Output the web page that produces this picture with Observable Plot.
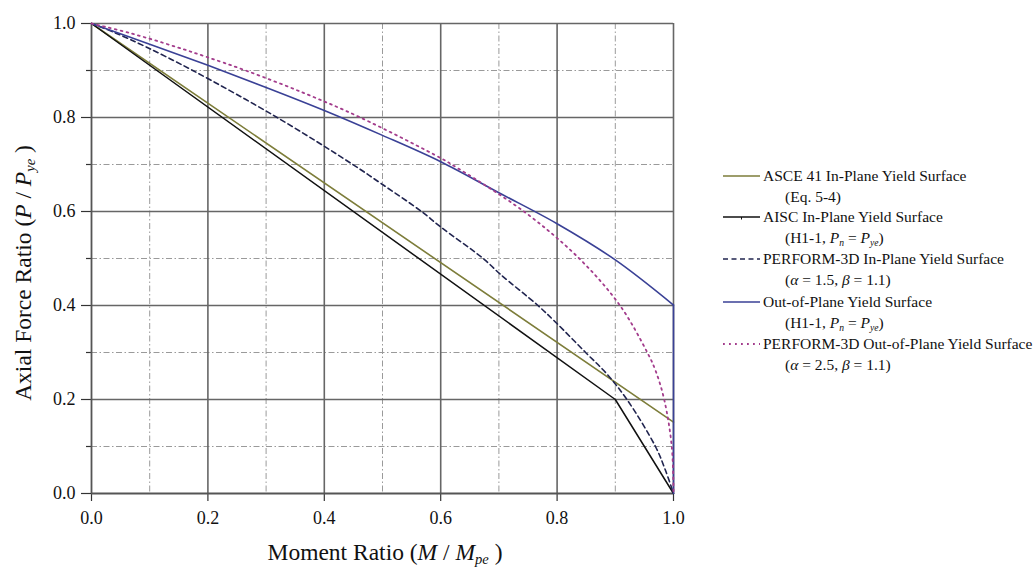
<!DOCTYPE html>
<html>
<head>
<meta charset="utf-8">
<script src="https://cdn.jsdelivr.net/npm/d3@7"></script>
<script src="https://cdn.jsdelivr.net/npm/@observablehq/plot@0.6"></script>
<style>
  html, body { margin: 0; padding: 0; background: #fff; }
  #chart { position: relative; width: 1036px; height: 569px; }
</style>
</head>
<body>
<div id="chart"></div>
<script>
// ---- data ----
const xMajorTicks = [0, 0.2, 0.4, 0.6, 0.8, 1.0];
const xMinorTicks = [0.1, 0.3, 0.5, 0.7, 0.9];
const yMajorTicks = [0, 0.2, 0.4, 0.6, 0.8, 1.0];
const yMinorTicks = [0.1, 0.3, 0.5, 0.7, 0.9];

// ASCE 41 In-Plane Yield Surface (Eq. 5-4)
const asceM = [0, 1.0];
const asceP = [1.0, 0.152];

// AISC In-Plane Yield Surface (H1-1)
const aiscM = [0, 0.9, 1.0];
const aiscP = [1.0, 0.2, 0];

// PERFORM-3D In-Plane Yield Surface (alpha 1.5, beta 1.1)
const p3dInM = [0, 0.041, 0.094, 0.174, 0.319, 0.449, 0.497, 0.567, 0.600, 0.673, 0.702, 0.767, 0.797, 0.849, 0.885, 0.920, 0.969, 0.986, 1.0];
const p3dInP = [1.0, 0.98, 0.95, 0.90, 0.80, 0.70, 0.66, 0.60, 0.567, 0.50, 0.467, 0.40, 0.365, 0.30, 0.255, 0.20, 0.10, 0.05, 0];

// Out-of-Plane Yield Surface (H1-1)
const oopM = [0, 0.1, 0.2, 0.3, 0.4, 0.5, 0.6, 0.7, 0.8, 0.9, 1.0];
const oopP = [1.0, 0.956, 0.911, 0.864, 0.815, 0.762, 0.706, 0.640, 0.574, 0.497, 0.401];
const oopDropM = [1.0, 1.0];
const oopDropP = [0.401, 0];

// PERFORM-3D Out-of-Plane Yield Surface (alpha 2.5, beta 1.1)
const p3dOutM = [0, 0.065, 0.146, 0.195, 0.265, 0.369, 0.462, 0.601, 0.619, 0.743, 0.838, 0.908, 0.955, 0.969, 0.984, 0.997, 1.0];
const p3dOutP = [1.0, 0.98, 0.95, 0.93, 0.90, 0.85, 0.80, 0.713, 0.70, 0.60, 0.50, 0.40, 0.30, 0.262, 0.20, 0.10, 0];

const legendLabels = [
  "ASCE 41 In-Plane Yield Surface",
  "AISC In-Plane Yield Surface",
  "PERFORM-3D In-Plane Yield Surface",
  "Out-of-Plane Yield Surface",
  "PERFORM-3D Out-of-Plane Yield Surface"
];

// ---- styles ----
const C_OLIVE = "#7d7d3a";
const C_BLACK = "#111111";
const C_NAVY = "#20244f";
const C_BLUE = "#3a4196";
const C_PINK = "#a33c8c";
const FONT = "'Liberation Serif', 'Times New Roman', serif";

const fmt = d => d.toFixed(1);

const plot = Plot.plot({
  width: 1036,
  height: 569,
  marginLeft: 91,
  marginRight: 363,
  marginTop: 23,
  marginBottom: 76,
  x: { domain: [0, 1] },
  y: { domain: [0, 1] },
  style: { fontFamily: FONT, fontSize: "18px", color: "#222", background: "#fff" },
  marks: [
    Plot.ruleX(xMinorTicks, { stroke: "#9a9a9a", strokeWidth: 1, strokeDasharray: "6,2.5,1.5,2.5" }),
    Plot.ruleY(yMinorTicks, { stroke: "#9a9a9a", strokeWidth: 1, strokeDasharray: "6,2.5,1.5,2.5" }),
    Plot.ruleX(xMajorTicks.slice(1), { stroke: "#666", strokeWidth: 1.6 }),
    Plot.ruleY(yMajorTicks.slice(1), { stroke: "#666", strokeWidth: 1.6 }),
    Plot.axisX({ ticks: xMajorTicks, tickFormat: fmt, tickSize: 8, tickPadding: 10, label: null, stroke: "#333", strokeWidth: 1.2, fill: "#111" }),
    Plot.axisY({ ticks: yMajorTicks, tickFormat: fmt, tickSize: 10, tickPadding: 6, label: null, stroke: "#333", strokeWidth: 1.2, fill: "#111" }),
    Plot.axisY({ ticks: yMinorTicks, tickFormat: () => "", tickSize: 5, label: null, stroke: "#333", strokeWidth: 1.2 }),
    Plot.ruleX([0], { stroke: "#555", strokeWidth: 1.8 }),
    Plot.ruleY([0], { stroke: "#555", strokeWidth: 1.8 }),
    Plot.line(asceM, { x: asceM, y: asceP, stroke: C_OLIVE, strokeWidth: 1.6 }),
    Plot.line(aiscM, { x: aiscM, y: aiscP, stroke: C_BLACK, strokeWidth: 1.5 }),
    Plot.line(p3dInM, { x: p3dInM, y: p3dInP, stroke: C_NAVY, strokeWidth: 1.6, strokeDasharray: "5,3.5", curve: "catmull-rom" }),
    Plot.line(oopM, { x: oopM, y: oopP, stroke: C_BLUE, strokeWidth: 1.6, curve: "catmull-rom" }),
    Plot.line(oopDropM, { x: oopDropM, y: oopDropP, stroke: C_BLUE, strokeWidth: 1.6 }),
    Plot.line(p3dOutM, { x: p3dOutM, y: p3dOutP, stroke: C_PINK, strokeWidth: 1.8, strokeDasharray: "1.8,4.2", curve: "catmull-rom" })
  ]
});

document.getElementById("chart").appendChild(plot);

const svg = d3.select(plot);

// axis titles with italics and subscripts
function richText(sel, parts) {
  parts.forEach(p => {
    const t = sel.append("tspan").text(p.t);
    if (p.i) t.attr("font-style", "italic");
    if (p.sub) t.attr("baseline-shift", "-25%").attr("font-size", "0.62em");
  });
}

const xt = svg.append("text")
  .attr("x", 385).attr("y", 560)
  .attr("text-anchor", "middle")
  .attr("font-family", FONT).attr("font-size", 23.5).attr("fill", "#111");
richText(xt, [
  { t: "Moment Ratio (" }, { t: "M", i: true }, { t: " / " }, { t: "M", i: true },
  { t: "pe", i: true, sub: true }, { t: " )" }
]);

const yt = svg.append("text")
  .attr("transform", "translate(31,273) rotate(-90)")
  .attr("text-anchor", "middle")
  .attr("font-family", FONT).attr("font-size", 23.5).attr("fill", "#111");
richText(yt, [
  { t: "Axial Force Ratio (" }, { t: "P", i: true }, { t: " / " }, { t: "P", i: true },
  { t: "ye", i: true, sub: true }, { t: " )" }
]);

// legend
const lg = svg.append("g")
  .attr("font-family", FONT).attr("font-size", 15.5).attr("fill", "#111")
  .attr("text-anchor", "start");
const legendRows = [
  { y: 176, stroke: C_OLIVE, dash: null, w: 1.6, label: [{ t: legendLabels[0] }], sub: [{ t: "(Eq. 5-4)" }] },
  { y: 217, stroke: C_BLACK, dash: null, w: 1.5, tick: true, label: [{ t: legendLabels[1] }],
    sub: [{ t: "(H1-1, " }, { t: "P", i: true }, { t: "n", i: true, sub: true }, { t: " = " }, { t: "P", i: true }, { t: "ye", i: true, sub: true }, { t: ")" }] },
  { y: 259, stroke: C_NAVY, dash: "5,3.5", w: 1.6, label: [{ t: legendLabels[2] }],
    sub: [{ t: "(" }, { t: "α", i: true }, { t: " = 1.5, " }, { t: "β", i: true }, { t: " = 1.1)" }] },
  { y: 302, stroke: C_BLUE, dash: null, w: 1.6, label: [{ t: legendLabels[3] }],
    sub: [{ t: "(H1-1, " }, { t: "P", i: true }, { t: "n", i: true, sub: true }, { t: " = " }, { t: "P", i: true }, { t: "ye", i: true, sub: true }, { t: ")" }] },
  { y: 344, stroke: C_PINK, dash: "1.8,4.2", w: 1.8, label: [{ t: legendLabels[4] }],
    sub: [{ t: "(" }, { t: "α", i: true }, { t: " = 2.5, " }, { t: "β", i: true }, { t: " = 1.1)" }] }
];
legendRows.forEach(r => {
  const ln = lg.append("line")
    .attr("x1", 723).attr("x2", 760).attr("y1", r.y).attr("y2", r.y)
    .attr("stroke", r.stroke).attr("stroke-width", r.w);
  if (r.dash) ln.attr("stroke-dasharray", r.dash);
  if (r.tick) {
    lg.append("line").attr("x1", 741.5).attr("x2", 741.5).attr("y1", r.y).attr("y2", r.y + 2.5)
      .attr("stroke", r.stroke).attr("stroke-width", 1);
  }
  const t1 = lg.append("text").attr("x", 763).attr("y", r.y).attr("dy", "0.35em").attr("text-anchor", "start");
  richText(t1, r.label);
  const t2 = lg.append("text").attr("x", 785).attr("y", r.y + 20.5).attr("dy", "0.35em").attr("text-anchor", "start");
  richText(t2, r.sub);
});
</script>
</body>
</html>
